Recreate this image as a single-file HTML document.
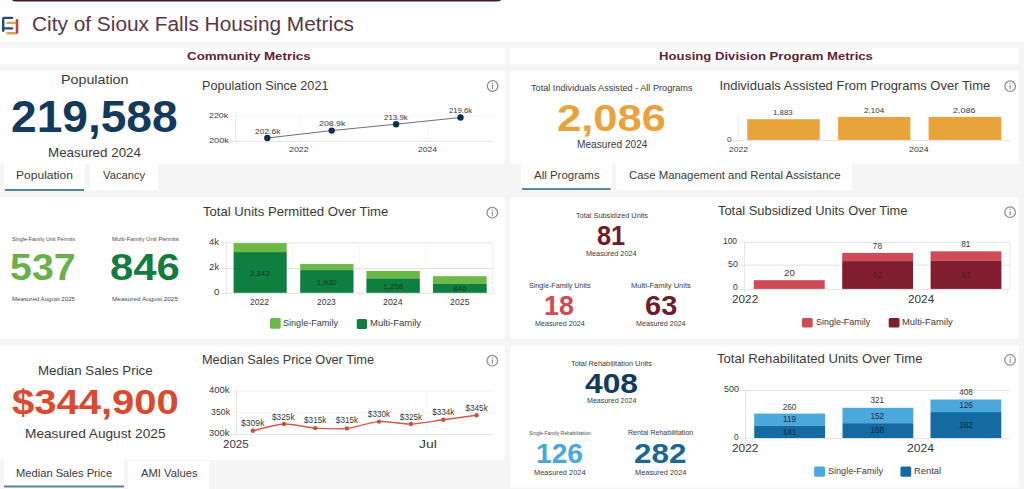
<!DOCTYPE html>
<html><head><meta charset="utf-8"><title>City of Sioux Falls Housing Metrics</title>
<style>
html,body{margin:0;padding:0;}
body{width:1024px;height:489px;overflow:hidden;background:#f5f5f5;position:relative;font-family:"Liberation Sans",sans-serif;}
.ov{position:absolute;left:0;top:0;}
.t{position:absolute;white-space:nowrap;line-height:1;transform-origin:0 0;}
</style></head><body>
<svg class="ov" width="1024" height="489" viewBox="0 0 1024 489"><rect x="0" y="0" width="1024.00" height="42.00" fill="#ffffff" rx="0"/><rect x="11.5" y="-4" width="490" height="5.4" rx="4" fill="#471a2b"/><rect x="0" y="48" width="504.50" height="16.50" fill="#ffffff" rx="0"/><rect x="0" y="70.7" width="504.50" height="93.30" fill="#ffffff" rx="0"/><rect x="0" y="197.3" width="504.50" height="141.50" fill="#ffffff" rx="0"/><rect x="510.5" y="48" width="508.50" height="16.50" fill="#ffffff" rx="0"/><rect x="510.5" y="70.7" width="508.50" height="93.30" fill="#ffffff" rx="0"/><rect x="510.5" y="197.3" width="508.50" height="141.50" fill="#ffffff" rx="0"/><rect x="0" y="345.5" width="504.50" height="114.70" fill="#ffffff" rx="0"/><rect x="510.5" y="345.5" width="508.50" height="142.10" fill="#ffffff" rx="0"/><rect x="4" y="163" width="81.00" height="28.00" fill="#ffffff" rx="0"/><rect x="4.8" y="189" width="79.20" height="2.00" fill="#52849c" rx="0"/><rect x="90" y="164" width="68.00" height="26.00" fill="#ffffff" rx="0"/><rect x="521" y="163" width="91.00" height="27.00" fill="#ffffff" rx="0"/><rect x="522" y="188.1" width="88.60" height="1.90" fill="#52849c" rx="0"/><rect x="616" y="164" width="236.00" height="26.00" fill="#ffffff" rx="0"/><rect x="4" y="460" width="120.00" height="29.00" fill="#ffffff" rx="0"/><rect x="4" y="485.5" width="120.00" height="2.00" fill="#52849c" rx="0"/><rect x="128" y="461" width="81.00" height="28.00" fill="#ffffff" rx="0"/><g fill="none" stroke-linecap="round" stroke-width="2.4"><path d="M12 17.9 H4 Q3.2 17.9 3.2 18.9 V30.8" stroke="#1f4f6f"/><path d="M4.2 28.4 H12" stroke="#1f4f6f"/><path d="M7.6 22.9 H15.5" stroke="#e2a447"/><path d="M7.6 33.2 H16 Q17 33.2 17 32.2 V20.3" stroke="#e2a447"/><path d="M17 20.3 V32.2" stroke="#b8434c"/></g><circle cx="492.6" cy="86" r="5.3" fill="none" stroke="#8a8a8a" stroke-width="1.2"/><circle cx="492.6" cy="83.4" r="0.65" fill="#7a7a7a"/><line x1="492.6" y1="85" x2="492.6" y2="89" stroke="#7a7a7a" stroke-width="1"/><circle cx="492.3" cy="212.7" r="5.3" fill="none" stroke="#8a8a8a" stroke-width="1.2"/><circle cx="492.3" cy="210.1" r="0.65" fill="#7a7a7a"/><line x1="492.3" y1="211.7" x2="492.3" y2="215.7" stroke="#7a7a7a" stroke-width="1"/><circle cx="492.3" cy="360.7" r="5.3" fill="none" stroke="#8a8a8a" stroke-width="1.2"/><circle cx="492.3" cy="358.09999999999997" r="0.65" fill="#7a7a7a"/><line x1="492.3" y1="359.7" x2="492.3" y2="363.7" stroke="#7a7a7a" stroke-width="1"/><circle cx="1010.1" cy="86.2" r="5.3" fill="none" stroke="#8a8a8a" stroke-width="1.2"/><circle cx="1010.1" cy="83.60000000000001" r="0.65" fill="#7a7a7a"/><line x1="1010.1" y1="85.2" x2="1010.1" y2="89.2" stroke="#7a7a7a" stroke-width="1"/><circle cx="1010.1" cy="212.2" r="5.3" fill="none" stroke="#8a8a8a" stroke-width="1.2"/><circle cx="1010.1" cy="209.6" r="0.65" fill="#7a7a7a"/><line x1="1010.1" y1="211.2" x2="1010.1" y2="215.2" stroke="#7a7a7a" stroke-width="1"/><circle cx="1010.1" cy="359.9" r="5.3" fill="none" stroke="#8a8a8a" stroke-width="1.2"/><circle cx="1010.1" cy="357.29999999999995" r="0.65" fill="#7a7a7a"/><line x1="1010.1" y1="358.9" x2="1010.1" y2="362.9" stroke="#7a7a7a" stroke-width="1"/><line x1="235.6" y1="115" x2="235.6" y2="141.4" stroke="#e4e4e4" stroke-width="1"/><line x1="235.6" y1="116" x2="493" y2="116" stroke="#f3f3f3" stroke-width="1"/><line x1="299" y1="116" x2="299" y2="141" stroke="#f6f6f6" stroke-width="1"/><line x1="428" y1="116" x2="428" y2="141" stroke="#f6f6f6" stroke-width="1"/><line x1="229" y1="141.4" x2="493" y2="141.4" stroke="#e4e4e4" stroke-width="1"/><polyline points="267.3,138 331.7,130.6 396.1,124.2 460.5,117.5" fill="none" stroke="#56606b" stroke-width="0.9"/><circle cx="267.3" cy="138" r="3.2" fill="#10304d"/><circle cx="331.7" cy="130.6" r="3.2" fill="#10304d"/><circle cx="396.1" cy="124.2" r="3.2" fill="#10304d"/><circle cx="460.5" cy="117.5" r="3.2" fill="#10304d"/><line x1="738.4" y1="114.8" x2="738.4" y2="140.2" stroke="#efefef" stroke-width="1"/><rect x="747.3" y="119.2" width="72.40" height="21.00" fill="#e9a33b" rx="0"/><rect x="838.1" y="116.9" width="72.30" height="23.30" fill="#e9a33b" rx="0"/><rect x="928.6" y="116.9" width="72.70" height="23.30" fill="#e9a33b" rx="0"/><line x1="733" y1="140.4" x2="1011" y2="140.4" stroke="#e4e4e4" stroke-width="1"/><line x1="292.5" y1="243" x2="292.5" y2="293" stroke="#f6f6f6" stroke-width="1"/><line x1="359.3" y1="243" x2="359.3" y2="293" stroke="#f6f6f6" stroke-width="1"/><line x1="426.3" y1="243" x2="426.3" y2="293" stroke="#f6f6f6" stroke-width="1"/><line x1="492.8" y1="243" x2="492.8" y2="293" stroke="#eeeeee" stroke-width="1"/><line x1="221" y1="242.8" x2="493" y2="242.8" stroke="#e4e4e4" stroke-width="1"/><line x1="221" y1="268.5" x2="493" y2="268.5" stroke="#e4e4e4" stroke-width="1"/><line x1="226.4" y1="242.8" x2="226.4" y2="294" stroke="#e4e4e4" stroke-width="1"/><rect x="233.6" y="243.1" width="53.10" height="9.00" fill="#6cb947" rx="0"/><rect x="233.6" y="252.1" width="53.10" height="41.10" fill="#0f7f3f" rx="0"/><rect x="300.2" y="264" width="53.30" height="6.10" fill="#6cb947" rx="0"/><rect x="300.2" y="270.1" width="53.30" height="23.10" fill="#0f7f3f" rx="0"/><rect x="366.4" y="271" width="53.40" height="7.40" fill="#6cb947" rx="0"/><rect x="366.4" y="278.4" width="53.40" height="14.80" fill="#0f7f3f" rx="0"/><rect x="432.9" y="276.2" width="53.80" height="7.40" fill="#6cb947" rx="0"/><rect x="432.9" y="283.6" width="53.80" height="9.60" fill="#0f7f3f" rx="0"/><line x1="221" y1="293.3" x2="493" y2="293.3" stroke="#e4e4e4" stroke-width="1"/><rect x="270" y="318" width="10.70" height="10.70" fill="#6cb947" rx="1.5"/><rect x="356.8" y="319" width="10.20" height="10.00" fill="#0f7f3f" rx="1.5"/><line x1="739" y1="242.3" x2="1009.9" y2="242.3" stroke="#e4e4e4" stroke-width="1"/><line x1="739" y1="265.2" x2="1009.9" y2="265.2" stroke="#e4e4e4" stroke-width="1"/><line x1="1009.9" y1="242.3" x2="1009.9" y2="288.9" stroke="#e8e8e8" stroke-width="1"/><line x1="744.5" y1="242.3" x2="744.5" y2="292" stroke="#e4e4e4" stroke-width="1"/><rect x="753.8" y="280.2" width="70.90" height="9.00" fill="#cf4c56" rx="0"/><rect x="842.2" y="252.9" width="70.80" height="8.20" fill="#cf4c56" rx="0"/><rect x="842.2" y="261.1" width="70.80" height="28.10" fill="#801d2e" rx="0"/><rect x="930.6" y="251.3" width="70.80" height="9.50" fill="#cf4c56" rx="0"/><rect x="930.6" y="260.8" width="70.80" height="28.40" fill="#801d2e" rx="0"/><line x1="739" y1="289.4" x2="1009.9" y2="289.4" stroke="#e4e4e4" stroke-width="1"/><rect x="802" y="318" width="10.70" height="9.50" fill="#cf4c56" rx="1.5"/><rect x="888.7" y="318" width="10.80" height="9.50" fill="#801d2e" rx="1.5"/><line x1="231" y1="391" x2="493" y2="391" stroke="#f0f0f0" stroke-width="1"/><line x1="231" y1="412.5" x2="493" y2="412.5" stroke="#f4f4f4" stroke-width="1"/><line x1="426.6" y1="391" x2="426.6" y2="434.2" stroke="#f6f6f6" stroke-width="1"/><line x1="236.3" y1="391" x2="236.3" y2="434.5" stroke="#e4e4e4" stroke-width="1"/><line x1="231" y1="434.4" x2="493" y2="434.4" stroke="#e4e4e4" stroke-width="1"/><path d="M252.8,430.8 C256.84,429.92 275.79,424.35 283.9,424 C292.01,423.65 307.01,427.53 315.2,428.1 C323.39,428.67 338.61,429.25 346.9,428.4 C355.19,427.55 370.68,422.17 379,421.6 C387.32,421.03 402.54,424.23 410.9,424 C419.26,423.77 434.76,420.94 443.3,419.8 C451.84,418.66 472.27,415.80 476.6,415.2" fill="none" stroke="#cf5a48" stroke-width="1.4"/><circle cx="252.8" cy="430.8" r="2.2" fill="#c9503e"/><circle cx="283.9" cy="424" r="2.2" fill="#c9503e"/><circle cx="315.2" cy="428.1" r="2.2" fill="#c9503e"/><circle cx="346.9" cy="428.4" r="2.2" fill="#c9503e"/><circle cx="379" cy="421.6" r="2.2" fill="#c9503e"/><circle cx="410.9" cy="424" r="2.2" fill="#c9503e"/><circle cx="443.3" cy="419.8" r="2.2" fill="#c9503e"/><circle cx="476.6" cy="415.2" r="2.2" fill="#c9503e"/><line x1="739" y1="390.5" x2="1009.6" y2="390.5" stroke="#e4e4e4" stroke-width="1"/><line x1="745.5" y1="390.5" x2="745.5" y2="441" stroke="#e4e4e4" stroke-width="1"/><rect x="754.2" y="413.6" width="70.80" height="12.30" fill="#4ba8dc" rx="0"/><rect x="754.2" y="425.9" width="70.80" height="12.60" fill="#136ba2" rx="0"/><rect x="842.5" y="407.8" width="70.80" height="15.40" fill="#4ba8dc" rx="0"/><rect x="842.5" y="423.2" width="70.80" height="15.30" fill="#136ba2" rx="0"/><rect x="930.5" y="399.5" width="70.80" height="12.60" fill="#4ba8dc" rx="0"/><rect x="930.5" y="412.1" width="70.80" height="26.40" fill="#136ba2" rx="0"/><line x1="739" y1="438.6" x2="1009.6" y2="438.6" stroke="#e4e4e4" stroke-width="1"/><rect x="814.2" y="466.5" width="10.80" height="10.20" fill="#4ba8dc" rx="1.5"/><rect x="900.4" y="466.5" width="10.80" height="10.20" fill="#136ba2" rx="1.5"/></svg>
<div class="t" style="left:31.94px;top:15.26px;font-size:19.5px;color:#573746;transform:scaleX(1.0689);">City of Sioux Falls Housing Metrics</div>
<div class="t" style="left:186.55px;top:51.04px;font-size:11.3px;color:#5e2238;font-weight:700;transform:scaleX(1.1800);">Community Metrics</div>
<div class="t" style="left:658.92px;top:51.04px;font-size:11.3px;color:#5e2238;font-weight:700;transform:scaleX(1.1590);">Housing Division Program Metrics</div>
<div class="t" style="left:61.23px;top:73.24px;font-size:13.2px;color:#3a3a3a;transform:scaleX(1.0830);">Population</div>
<div class="t" style="left:10.70px;top:94.66px;font-size:44px;color:#123a5c;font-weight:700;transform:scaleX(1.0475);">219,588</div>
<div class="t" style="left:47.90px;top:147.00px;font-size:12.2px;color:#3a3a3a;transform:scaleX(1.0978);">Measured 2024</div>
<div class="t" style="left:201.86px;top:78.57px;font-size:13px;color:#3a3a3a;transform:scaleX(0.9719);">Population Since 2021</div>
<div class="t" style="left:209.35px;top:112.42px;font-size:7.8px;color:#383838;transform:scaleX(1.1366);">220k</div>
<div class="t" style="left:208.74px;top:136.62px;font-size:7.8px;color:#383838;transform:scaleX(1.1728);">200k</div>
<div class="t" style="left:254.57px;top:128.02px;font-size:7.8px;color:#383838;transform:scaleX(1.0850);">202.6k</div>
<div class="t" style="left:318.56px;top:119.92px;font-size:7.8px;color:#383838;transform:scaleX(1.1284);">208.9k</div>
<div class="t" style="left:384.00px;top:114.32px;font-size:7.8px;color:#383838;transform:scaleX(1.0156);">213.9k</div>
<div class="t" style="left:448.81px;top:107.32px;font-size:7.8px;color:#383838;transform:scaleX(0.9852);">219.6k</div>
<div class="t" style="left:289.06px;top:146.02px;font-size:7.8px;color:#383838;transform:scaleX(1.1343);">2022</div>
<div class="t" style="left:418.32px;top:146.02px;font-size:7.8px;color:#383838;transform:scaleX(1.1022);">2024</div>
<div class="t" style="left:531.29px;top:82.93px;font-size:9.4px;color:#3a3a3a;transform:scaleX(0.9749);">Total Individuals Assisted - All Programs</div>
<div class="t" style="left:557.49px;top:99.94px;font-size:37.5px;color:#e9a33b;font-weight:700;transform:scaleX(1.1624);">2,086</div>
<div class="t" style="left:576.87px;top:138.90px;font-size:10.9px;color:#3a3a3a;transform:scaleX(0.9305);">Measured 2024</div>
<div class="t" style="left:719.40px;top:78.57px;font-size:13px;color:#3a3a3a;">Individuals Assisted From Programs Over Time</div>
<div class="t" style="left:773.40px;top:108.92px;font-size:7.8px;color:#383838;transform:scaleX(1.0065);">1,883</div>
<div class="t" style="left:863.99px;top:106.62px;font-size:7.8px;color:#383838;transform:scaleX(1.0373);">2,104</div>
<div class="t" style="left:953.24px;top:106.62px;font-size:7.8px;color:#383838;transform:scaleX(1.1608);">2,086</div>
<div class="t" style="left:726.67px;top:136.12px;font-size:7.8px;color:#383838;transform:scaleX(1.0711);">0</div>
<div class="t" style="left:728.57px;top:145.52px;font-size:7.8px;color:#383838;transform:scaleX(1.0860);">2022</div>
<div class="t" style="left:908.55px;top:145.62px;font-size:7.8px;color:#383838;transform:scaleX(1.1351);">2024</div>
<div class="t" style="left:15.81px;top:170.48px;font-size:11px;color:#3a3a3a;transform:scaleX(1.0956);">Population</div>
<div class="t" style="left:102.65px;top:170.48px;font-size:11px;color:#3a3a3a;transform:scaleX(1.0192);">Vacancy</div>
<div class="t" style="left:533.98px;top:170.08px;font-size:11px;color:#3a3a3a;transform:scaleX(1.0424);">All Programs</div>
<div class="t" style="left:628.52px;top:170.28px;font-size:11px;color:#3a3a3a;transform:scaleX(1.0324);">Case Management and Rental Assistance</div>
<div class="t" style="left:11.96px;top:236.93px;font-size:5.6px;color:#4a4a4a;transform:scaleX(0.9565);">Single-Family Unit Permits</div>
<div class="t" style="left:10.09px;top:249.52px;font-size:36.3px;color:#6ab04a;font-weight:700;transform:scaleX(1.0838);">537</div>
<div class="t" style="left:11.70px;top:295.66px;font-size:6px;color:#4a4a4a;transform:scaleX(1.0201);">Measured August 2025</div>
<div class="t" style="left:111.71px;top:236.93px;font-size:5.6px;color:#4a4a4a;transform:scaleX(1.0746);">Multi-Family Unit Permits</div>
<div class="t" style="left:109.97px;top:249.52px;font-size:36.3px;color:#137c3e;font-weight:700;transform:scaleX(1.1532);">846</div>
<div class="t" style="left:111.67px;top:295.66px;font-size:6px;color:#4a4a4a;transform:scaleX(1.0693);">Measured August 2025</div>
<div class="t" style="left:203.21px;top:204.97px;font-size:13px;color:#3a3a3a;transform:scaleX(1.0097);">Total Units Permitted Over Time</div>
<div class="t" style="left:209.28px;top:238.56px;font-size:8.2px;color:#383838;transform:scaleX(1.1556);">4k</div>
<div class="t" style="left:209.01px;top:264.26px;font-size:8.2px;color:#383838;transform:scaleX(1.1870);">2k</div>
<div class="t" style="left:214.32px;top:288.96px;font-size:8.2px;color:#383838;transform:scaleX(1.1729);">0</div>
<div class="t" style="left:249.68px;top:269.69px;font-size:8px;color:#163522;">3,343</div>
<div class="t" style="left:316.78px;top:278.99px;font-size:8px;color:#163522;">1,930</div>
<div class="t" style="left:383.28px;top:283.29px;font-size:8px;color:#163522;">1,258</div>
<div class="t" style="left:453.32px;top:284.69px;font-size:8px;color:#163522;">846</div>
<div class="t" style="left:250.27px;top:299.06px;font-size:8.2px;color:#383838;transform:scaleX(1.0348);">2022</div>
<div class="t" style="left:317.37px;top:299.26px;font-size:8.2px;color:#383838;transform:scaleX(1.0318);">2023</div>
<div class="t" style="left:382.86px;top:299.26px;font-size:8.2px;color:#383838;transform:scaleX(1.0759);">2024</div>
<div class="t" style="left:450.06px;top:299.26px;font-size:8.2px;color:#383838;transform:scaleX(1.0709);">2025</div>
<div class="t" style="left:283.29px;top:319.10px;font-size:9px;color:#3a3a3a;transform:scaleX(1.0076);">Single-Family</div>
<div class="t" style="left:369.92px;top:319.10px;font-size:9px;color:#3a3a3a;transform:scaleX(1.0535);">Multi-Family</div>
<div class="t" style="left:575.64px;top:211.55px;font-size:7.4px;color:#3a3a3a;transform:scaleX(0.9905);">Total Subsidized Units</div>
<div class="t" style="left:596.70px;top:222.25px;font-size:27.5px;color:#6f1d2c;font-weight:700;transform:scaleX(0.9221);">81</div>
<div class="t" style="left:586.00px;top:250.28px;font-size:7.8px;color:#3a3a3a;transform:scaleX(0.9321);">Measured 2024</div>
<div class="t" style="left:529.37px;top:281.81px;font-size:7.6px;color:#3a3a3a;transform:scaleX(0.9429);">Single-Family Units</div>
<div class="t" style="left:544.31px;top:292.35px;font-size:27.5px;color:#cf4c56;font-weight:700;transform:scaleX(0.9745);">18</div>
<div class="t" style="left:535.21px;top:320.38px;font-size:7.8px;color:#3a3a3a;transform:scaleX(0.9171);">Measured 2024</div>
<div class="t" style="left:630.98px;top:282.11px;font-size:7.6px;color:#3a3a3a;transform:scaleX(0.9908);">Multi-Family Units</div>
<div class="t" style="left:645.14px;top:292.35px;font-size:27.5px;color:#6f1d2c;font-weight:700;transform:scaleX(1.0562);">63</div>
<div class="t" style="left:636.01px;top:320.38px;font-size:7.8px;color:#3a3a3a;transform:scaleX(0.9152);">Measured 2024</div>
<div class="t" style="left:717.61px;top:204.27px;font-size:13px;color:#3a3a3a;transform:scaleX(0.9895);">Total Subsidized Units Over Time</div>
<div class="t" style="left:723.36px;top:238.06px;font-size:8.2px;color:#383838;transform:scaleX(1.0293);">100</div>
<div class="t" style="left:727.65px;top:261.16px;font-size:8.2px;color:#383838;transform:scaleX(1.0756);">50</div>
<div class="t" style="left:732.67px;top:284.36px;font-size:8.2px;color:#383838;transform:scaleX(1.0454);">0</div>
<div class="t" style="left:783.51px;top:269.66px;font-size:8.2px;color:#383838;transform:scaleX(1.1819);">20</div>
<div class="t" style="left:872.85px;top:242.66px;font-size:8.2px;color:#383838;">78</div>
<div class="t" style="left:961.15px;top:241.26px;font-size:8.2px;color:#383838;">81</div>
<div class="t" style="left:872.85px;top:272.06px;font-size:8.2px;color:#4a1a22;">62</div>
<div class="t" style="left:961.15px;top:272.06px;font-size:8.2px;color:#4a1a22;">63</div>
<div class="t" style="left:731.61px;top:293.64px;font-size:11px;color:#383838;transform:scaleX(1.0694);">2022</div>
<div class="t" style="left:907.91px;top:293.94px;font-size:11px;color:#383838;transform:scaleX(1.0716);">2024</div>
<div class="t" style="left:815.99px;top:318.10px;font-size:9px;color:#3a3a3a;transform:scaleX(0.9947);">Single-Family</div>
<div class="t" style="left:902.03px;top:318.10px;font-size:9px;color:#3a3a3a;transform:scaleX(1.0452);">Multi-Family</div>
<div class="t" style="left:37.71px;top:364.92px;font-size:12.7px;color:#3a3a3a;transform:scaleX(1.0491);">Median Sales Price</div>
<div class="t" style="left:12.37px;top:385.08px;font-size:34.6px;color:#d94a2e;font-weight:700;transform:scaleX(1.1569);">$344,900</div>
<div class="t" style="left:24.78px;top:428.00px;font-size:12.2px;color:#3a3a3a;transform:scaleX(1.1207);">Measured August 2025</div>
<div class="t" style="left:201.56px;top:352.97px;font-size:13px;color:#3a3a3a;transform:scaleX(0.9797);">Median Sales Price Over Time</div>
<div class="t" style="left:209.18px;top:386.86px;font-size:8.2px;color:#383838;transform:scaleX(1.1541);">400k</div>
<div class="t" style="left:210.67px;top:408.76px;font-size:8.2px;color:#383838;transform:scaleX(1.0707);">350k</div>
<div class="t" style="left:209.34px;top:430.16px;font-size:8.2px;color:#383838;transform:scaleX(1.1451);">300k</div>
<div class="t" style="left:240.91px;top:420.26px;font-size:8.2px;color:#383838;transform:scaleX(1.0523);">$309k</div>
<div class="t" style="left:272.21px;top:414.06px;font-size:8.2px;color:#383838;transform:scaleX(1.0119);">$325k</div>
<div class="t" style="left:304.04px;top:416.96px;font-size:8.2px;color:#383838;">$315k</div>
<div class="t" style="left:335.84px;top:416.96px;font-size:8.2px;color:#383838;">$315k</div>
<div class="t" style="left:367.84px;top:410.86px;font-size:8.2px;color:#383838;">$330k</div>
<div class="t" style="left:399.84px;top:413.96px;font-size:8.2px;color:#383838;">$325k</div>
<div class="t" style="left:432.14px;top:409.26px;font-size:8.2px;color:#383838;">$334k</div>
<div class="t" style="left:465.44px;top:405.46px;font-size:8.2px;color:#383838;">$345k</div>
<div class="t" style="left:222.82px;top:439.34px;font-size:11px;color:#383838;transform:scaleX(1.0482);">2025</div>
<div class="t" style="left:418.78px;top:439.28px;font-size:11px;color:#383838;transform:scaleX(1.2695);">Jul</div>
<div class="t" style="left:15.59px;top:468.08px;font-size:11px;color:#3a3a3a;transform:scaleX(1.0140);">Median Sales Price</div>
<div class="t" style="left:141.38px;top:468.08px;font-size:11px;color:#3a3a3a;transform:scaleX(1.0197);">AMI Values</div>
<div class="t" style="left:570.83px;top:359.65px;font-size:7.4px;color:#3a3a3a;transform:scaleX(0.9937);">Total Rehabilitation Units</div>
<div class="t" style="left:584.62px;top:369.60px;font-size:27.5px;color:#123a5c;font-weight:700;transform:scaleX(1.1562);">408</div>
<div class="t" style="left:586.62px;top:397.28px;font-size:7.8px;color:#3a3a3a;transform:scaleX(0.9115);">Measured 2024</div>
<div class="t" style="left:529.47px;top:430.53px;font-size:5.6px;color:#4a4a4a;transform:scaleX(0.8920);">Single-Family Rehabilitation</div>
<div class="t" style="left:536.23px;top:440.15px;font-size:27.5px;color:#4aa8d8;font-weight:700;transform:scaleX(1.0240);">126</div>
<div class="t" style="left:534.39px;top:469.38px;font-size:7.8px;color:#3a3a3a;transform:scaleX(0.9509);">Measured 2024</div>
<div class="t" style="left:627.82px;top:429.11px;font-size:7.6px;color:#3a3a3a;transform:scaleX(0.9310);">Rental Rehabilitation</div>
<div class="t" style="left:634.11px;top:440.15px;font-size:27.5px;color:#1b6797;font-weight:700;transform:scaleX(1.1429);">282</div>
<div class="t" style="left:634.59px;top:469.38px;font-size:7.8px;color:#3a3a3a;transform:scaleX(0.9490);">Measured 2024</div>
<div class="t" style="left:717.01px;top:352.27px;font-size:13px;color:#3a3a3a;transform:scaleX(1.0084);">Total Rehabilitated Units Over Time</div>
<div class="t" style="left:723.64px;top:385.86px;font-size:8.2px;color:#383838;transform:scaleX(1.0904);">500</div>
<div class="t" style="left:733.67px;top:433.56px;font-size:8.2px;color:#383838;transform:scaleX(1.0199);">0</div>
<div class="t" style="left:782.76px;top:403.76px;font-size:8.2px;color:#383838;">260</div>
<div class="t" style="left:783.07px;top:416.06px;font-size:8.2px;color:#17324a;">119</div>
<div class="t" style="left:782.76px;top:428.96px;font-size:8.2px;color:#0e2a40;">141</div>
<div class="t" style="left:870.46px;top:397.26px;font-size:8.2px;color:#383838;">321</div>
<div class="t" style="left:870.46px;top:412.66px;font-size:8.2px;color:#17324a;">152</div>
<div class="t" style="left:870.46px;top:426.76px;font-size:8.2px;color:#0e2a40;">168</div>
<div class="t" style="left:959.16px;top:388.96px;font-size:8.2px;color:#383838;">408</div>
<div class="t" style="left:959.16px;top:402.16px;font-size:8.2px;color:#17324a;">126</div>
<div class="t" style="left:959.16px;top:422.16px;font-size:8.2px;color:#0e2a40;">282</div>
<div class="t" style="left:732.10px;top:443.34px;font-size:11px;color:#383838;transform:scaleX(1.0822);">2022</div>
<div class="t" style="left:907.39px;top:443.34px;font-size:11px;color:#383838;transform:scaleX(1.1098);">2024</div>
<div class="t" style="left:827.59px;top:467.40px;font-size:9px;color:#3a3a3a;transform:scaleX(1.0076);">Single-Family</div>
<div class="t" style="left:914.03px;top:467.40px;font-size:9px;color:#3a3a3a;transform:scaleX(1.0375);">Rental</div>
</body></html>
